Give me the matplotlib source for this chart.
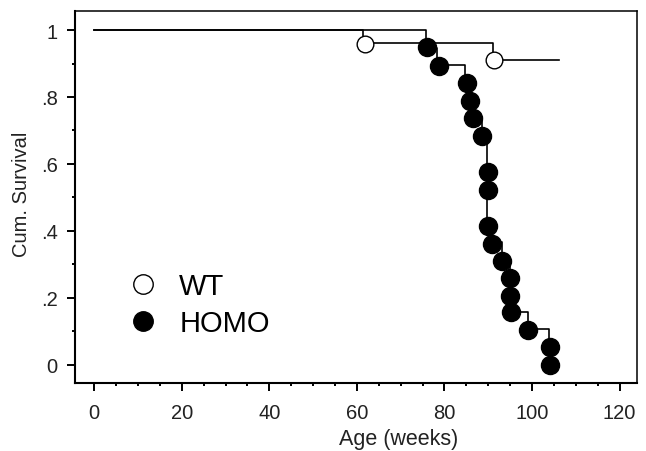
import matplotlib
matplotlib.use("Agg")
import matplotlib.pyplot as plt
from matplotlib.lines import Line2D
from matplotlib.ticker import MultipleLocator

plt.rcParams['font.family'] = ['Liberation Sans', 'DejaVu Sans']

# Kaplan-Meier step curves: age in weeks vs cumulative survival
wt_times = [0, 61.5, 91.2, 106.1]
wt_surv = [1.0, 0.960, 0.911, 0.911]
wt_mark_times = [61.9, 91.4]
wt_mark_surv = [0.958, 0.911]

homo_times = [0, 75.8, 78.4, 84.7, 85.9, 86.6, 88.5, 89.7, 90.8, 93.1, 94.9, 95.2, 99.2, 103.8]
homo_surv = [1.0, 0.947, 0.895, 0.842, 0.789, 0.737, 0.684, 0.421, 0.368, 0.316, 0.211, 0.158, 0.105, 0.0]
homo_mark_times = [76.0, 78.7, 85.1, 85.9, 86.6, 88.5, 89.9, 89.9, 89.9, 90.8, 93.1,
                   94.9, 94.9, 95.2, 99.2, 104.2, 104.2]
homo_mark_surv = [0.948, 0.893, 0.841, 0.787, 0.736, 0.683, 0.575, 0.523, 0.413, 0.361, 0.311,
                  0.258, 0.206, 0.157, 0.104, 0.052, 0.0]

x_ticks = [0, 20, 40, 60, 80, 100, 120]
y_ticks = [0, 0.2, 0.4, 0.6, 0.8, 1.0]
y_tick_labels = ['0', '.2', '.4', '.6', '.8', '1']

fig = plt.figure(figsize=(6.46, 4.52), dpi=100)
ax = fig.add_axes([0.1161, 0.1504, 0.870, 0.823])

ax.plot(wt_times, wt_surv, drawstyle='steps-post', color='black', lw=1.2, zorder=2)
ax.plot(homo_times, homo_surv, drawstyle='steps-post', color='black', lw=1.2, zorder=2)
ax.plot(wt_mark_times, wt_mark_surv, 'o', ms=12, mfc='white', mec='black', mew=1.0, zorder=3)
ax.plot(homo_mark_times, homo_mark_surv, 'o', ms=13, mfc='black', mec='black', zorder=3)

ax.set_xlim(-4.4, 124)
ax.set_ylim(-0.055, 1.057)
ax.set_xticks(x_ticks)
ax.set_yticks(y_ticks)
ax.set_yticklabels(y_tick_labels)
ax.xaxis.set_minor_locator(MultipleLocator(5))
ax.yaxis.set_minor_locator(MultipleLocator(0.1))
ax.tick_params(which='major', direction='out', length=5.5, width=1.4, labelsize=14.5,
               labelcolor='#222222')
ax.tick_params(which='minor', direction='out', length=2.5, width=1.4)
ax.tick_params(axis='x', which='major', pad=9)
ax.tick_params(axis='y', which='major', pad=7)

for side in ['left', 'bottom']:
    ax.spines[side].set_linewidth(1.5)
for side in ['top', 'right']:
    ax.spines[side].set_linewidth(1.1)

ax.set_xlabel('Age (weeks)', fontsize=15.5, color='#222222')
ax.set_ylabel('Cum. Survival', fontsize=14.5, color='#222222')
ax.xaxis.set_label_coords(0.575, -0.12)
ax.yaxis.set_label_coords(-0.078, 0.511)

handles = [
    Line2D([], [], ls='none', marker='o', ms=14, mfc='white', mec='black', mew=1.0),
    Line2D([], [], ls='none', marker='o', ms=14, mfc='black', mec='black'),
]
ax.legend(handles, ['WT', 'HOMO'], loc='center left', bbox_to_anchor=(0.095, 0.2105),
          frameon=False, fontsize=21, handlelength=1.0, handletextpad=0.74,
          borderpad=0, borderaxespad=0, labelspacing=0.3)

fig.savefig('out.png', dpi=100)
